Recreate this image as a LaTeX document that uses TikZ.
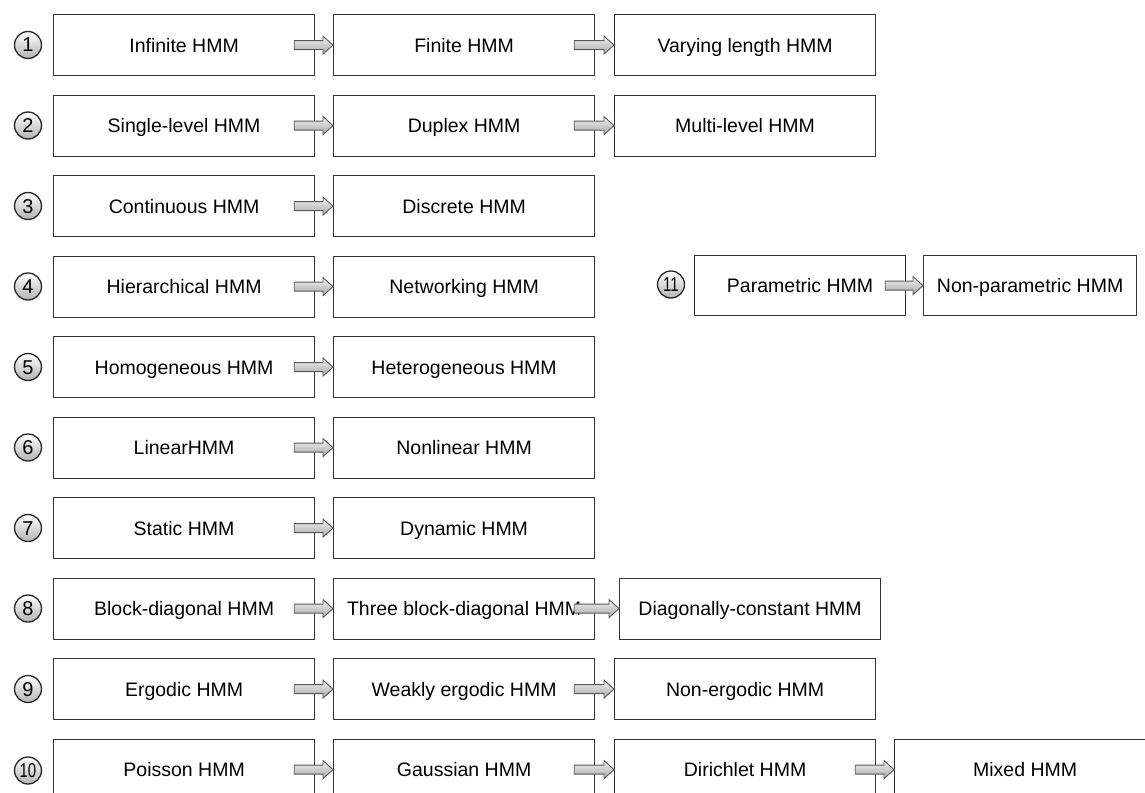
\documentclass[tikz,border=0pt]{standalone}
\usepackage{fontspec}
\setmainfont{Liberation Sans}
\usetikzlibrary{calc}
\tikzset{
  box/.style={draw=black!80, line width=1.2pt, minimum width=261pt, minimum height=61pt,
    anchor=north west, inner sep=0pt, text height=14pt, text depth=0pt,
    font=\fontsize{19.5}{22}\selectfont},
  num/.style={circle, draw=black!85, line width=1.3pt, minimum size=27pt, inner sep=0pt,
    top color=white, bottom color=black!30, text height=14pt, text depth=0pt,
    font=\fontsize{20}{22}\selectfont},
  barrowstyle/.style={draw=black!65, line width=0.9pt, top color=black!5, bottom color=black!35},
}
\newcommand\barrow[2]{\path[barrowstyle] let \p1=($(#1.east)+(-21,0)$), \p2=(#2.west) in
  (\x1,\y1+4.5) -- (\x2-10,\y1+4.5) -- (\x2-10,\y1+9) -- (\x2,\y1) -- (\x2-10,\y1-9)
  -- (\x2-10,\y1-4.5) -- (\x1,\y1-4.5) -- cycle;}
\begin{document}
\begin{tikzpicture}[x=1pt,y=-1pt]
\useasboundingbox[fill=white] (0,0) rectangle (1145,792);
% row 1
\node[box] (r1a) at (53,14) {Infinite HMM};
\node[box] (r1b) at (333,14) {Finite HMM};
\node[box] (r1c) at (614,14) {Varying length HMM};
\node[num] (c1) at (28,45) {1};
% row 2
\node[box] (r2a) at (53,94.5) {Single-level HMM};
\node[box] (r2b) at (333,94.5) {Duplex HMM};
\node[box] (r2c) at (614,94.5) {Multi-level HMM};
\node[num] (c2) at (28,125.5) {2};
% row 3
\node[box] (r3a) at (53,175) {Continuous HMM};
\node[box] (r3b) at (333,175) {Discrete HMM};
\node[num] (c3) at (28,206) {3};
% row 4
\node[box] (r4a) at (53,255.5) {Hierarchical HMM};
\node[box] (r4b) at (333,255.5) {Networking HMM};
\node[num] (c4) at (28,286.5) {4};
% row 5
\node[box] (r5a) at (53,336) {Homogeneous HMM};
\node[box] (r5b) at (333,336) {Heterogeneous HMM};
\node[num] (c5) at (28,367) {5};
% row 6
\node[box] (r6a) at (53,416.5) {LinearHMM};
\node[box] (r6b) at (333,416.5) {Nonlinear HMM};
\node[num] (c6) at (28,447.5) {6};
% row 7
\node[box] (r7a) at (53,497) {Static HMM};
\node[box] (r7b) at (333,497) {Dynamic HMM};
\node[num] (c7) at (28,528) {7};
% row 8
\node[box] (r8a) at (53,577.5) {Block-diagonal HMM};
\node[box] (r8b) at (333,577.5) {Three block-diagonal HMM};
\node[box] (r8c) at (619,577.5) {Diagonally-constant HMM};
\node[num] (c8) at (28,608.5) {8};
% row 9
\node[box] (r9a) at (53,658) {Ergodic HMM};
\node[box] (r9b) at (333,658) {Weakly ergodic HMM};
\node[box] (r9c) at (614,658) {Non-ergodic HMM};
\node[num] (c9) at (28,689) {9};
% row 10
\node[box] (r10a) at (53,738.5) {Poisson HMM};
\node[box] (r10b) at (333,738.5) {Gaussian HMM};
\node[box] (r10c) at (614,738.5) {Dirichlet HMM};
\node[box] (r10d) at (894,738.5) {Mixed HMM};
\node[num] (c10) at (28,770.5) {\scalebox{0.75}[1]{10}};
% row 11
\node[box, minimum width=211pt, minimum height=60pt] (r11a) at (694,255) {Parametric HMM};
\node[box, minimum width=213pt, minimum height=60pt] (r11b) at (923,255) {Non-parametric HMM};
\node[num] (c11) at (671,284.5) {\scalebox{0.75}[1]{11}};
% arrows
\barrow{r1a}{r1b}
\barrow{r1b}{r1c}
\barrow{r2a}{r2b}
\barrow{r2b}{r2c}
\barrow{r3a}{r3b}
\barrow{r4a}{r4b}
\barrow{r5a}{r5b}
\barrow{r6a}{r6b}
\barrow{r7a}{r7b}
\barrow{r8a}{r8b}
\barrow{r8b}{r8c}
\barrow{r9a}{r9b}
\barrow{r9b}{r9c}
\barrow{r10a}{r10b}
\barrow{r10b}{r10c}
\barrow{r10c}{r10d}
\barrow{r11a}{r11b}
\end{tikzpicture}
\end{document}
